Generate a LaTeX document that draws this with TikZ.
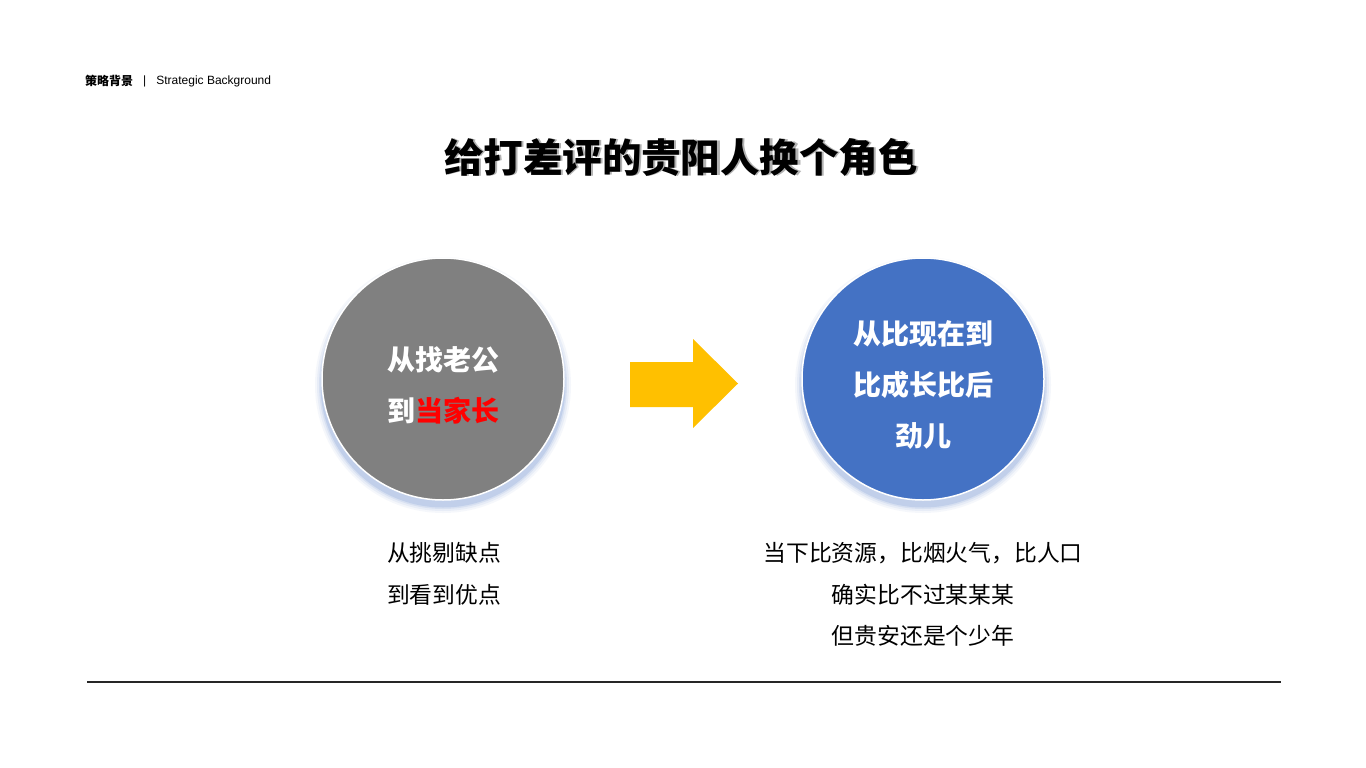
\documentclass[tikz,border=0pt]{standalone}
\usepackage{fontspec}
\setmainfont{Noto Sans CJK SC}
\newfontfamily\latinf{Liberation Sans}
\definecolor{cblue}{HTML}{4472C4}
\definecolor{cgray}{HTML}{808080}
\definecolor{cyel}{HTML}{FFC000}
\tikzset{x=1pt,y=-1pt,
 circ/.style={circle,minimum size=242pt,draw=white,line width=1.5pt},
 glow/.style={circle,fill=cblue,inner sep=0pt},
 ctext/.style={text=white,font=\bfseries\fontsize{28}{32}\selectfont},
 btext/.style={font=\fontsize{22.8}{26}\selectfont},
}
\begin{document}
\begin{tikzpicture}
\useasboundingbox[fill=white] (0,0) rectangle (1366,768);
\node[anchor=west,inner sep=0,font=\bfseries\fontsize{12}{14}\selectfont] (hd) at (85,81) {策略背景};
\node[anchor=west,inner sep=0,font=\latinf\fontsize{12}{14}\selectfont] (hd2) at (143,81) {|\hspace{10pt}Strategic Background};
\node[font=\bfseries\fontsize{39.5}{44}\selectfont] (title) at (683,157) {\tikz[baseline]\node[inner sep=0,anchor=base] at (0,0){\textcolor{black!30}{给打差评的贵阳人换个角色}};\llap{\tikz[baseline]\node[inner sep=0,anchor=base] at (0,0){给打差评的贵阳人换个角色};\hspace{2pt}}};
\foreach \c in {443,923}{
 \foreach \r/\o in {128/0.05,126/0.07,124/0.1,122.5/0.15}
  \node[glow,minimum size=2*\r pt,opacity=\o] at (\c,385) {};
}
\node[circ,fill=cgray] (L) at (443,379) {};
\node[circ,fill=cblue] (R) at (923,379) {};
\node[ctext] (l1) at (443,360) {从找老公};
\node[ctext] (l2) at (443,411) {到\textcolor{red}{当家长}};
\node[ctext] (r1) at (923,334) {从比现在到};
\node[ctext] (r2) at (923,385) {比成长比后};
\node[ctext] (r3) at (923,436) {劲儿};
\fill[cyel] (630,362) -- (693,362) -- (693,339) -- (738,383.5) -- (693,428) -- (693,407) -- (630,407) -- cycle;
\node[btext] (b1) at (444,553) {从挑剔缺点};
\node[btext] (b2) at (444,595) {到看到优点};
\node[btext] (c1) at (923,553) {当下比资源，比烟火气，比人口};
\node[btext] (c2) at (923,595) {确实比不过某某某};
\node[btext] (c3) at (923,636) {但贵安还是个少年};
\coordinate (s) at (87,682); \coordinate (e) at (1281,682);
\draw[line width=1.5pt,black!85] (s) -- (e);
\end{tikzpicture}
\end{document}
